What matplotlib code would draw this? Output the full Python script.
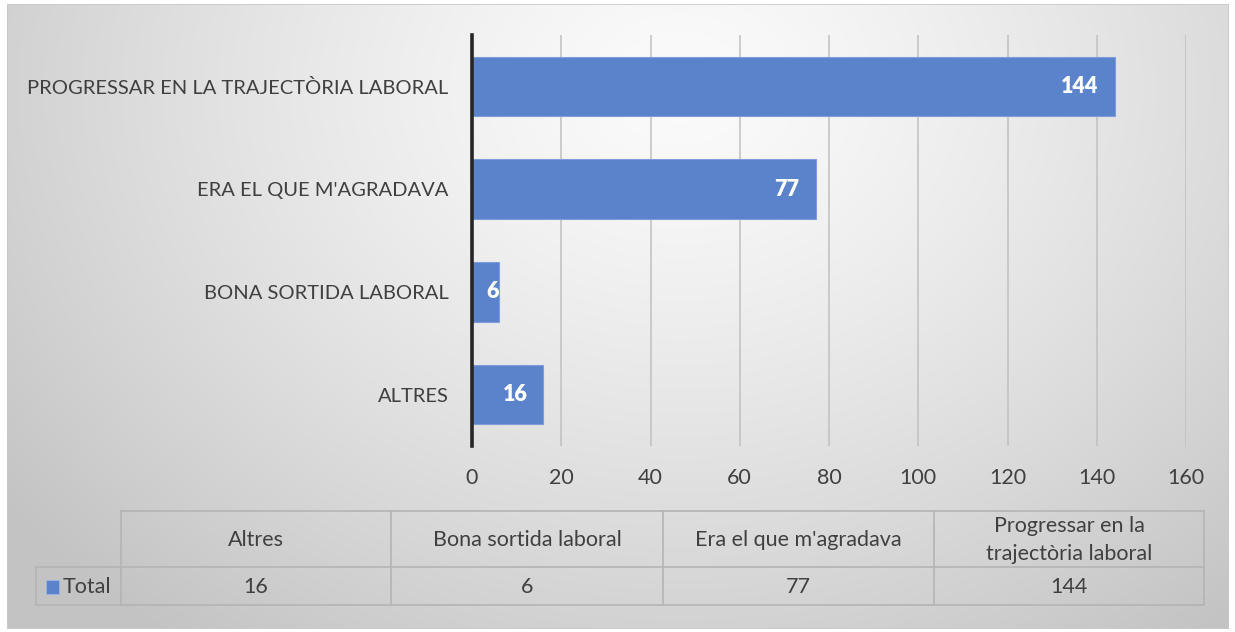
import numpy as np
import matplotlib
matplotlib.use("Agg")
import matplotlib.pyplot as plt
from matplotlib.patches import Rectangle

plt.rcParams["font.family"] = ["Lato", "DejaVu Sans"]

# data (bottom to top, as drawn)
categories = [
    "Altres",
    "Bona sortida laboral",
    "Era el que m'agradava",
    "Progressar en la trajectòria laboral",
]
table_headers = [
    "Altres",
    "Bona sortida laboral",
    "Era el que m'agradava",
    "Progressar en la\ntrajectòria laboral",
]
values = [16, 6, 77, 144]
series_name = "Total"
x_ticks = [0, 20, 40, 60, 80, 100, 120, 140, 160]

W, H = 1235, 632
BAR_COLOR = "#5b83cc"
TEXT_COLOR = "#404040"
LINE_COLOR = "#b4b4b4"


def fx(px):
    return px / W


def fy(py):
    return 1 - py / H


fig = plt.figure(figsize=(W / 100, H / 100), dpi=100)
fig.patch.set_facecolor("white")

# background with radial gradient
bg = fig.add_axes([fx(7), fy(629), fx(1229 - 7), (629 - 4) / H])
bg.set_axis_off()
yy, xx = np.mgrid[0:300, 0:600]
cx, cy = 330, 40
d = np.sqrt(((xx - cx) / 420.0) ** 2 + ((yy - cy) / 330.0) ** 2)
d = np.clip(d, 0, 1)
shade = 0.985 - 0.22 * d ** 1.3
img = np.dstack([shade, shade, shade])
bg.imshow(img, aspect="auto", extent=[0, 1, 0, 1], origin="upper")
bg.set_xlim(0, 1)
bg.set_ylim(0, 1)
bg.add_patch(Rectangle((0, 0), 1, 1, fill=False, edgecolor="#c8c8c8",
                       linewidth=1.2, transform=bg.transAxes))

# main bar axes
ax = fig.add_axes([fx(472), fy(446), fx(1186 - 472), (446 - 35) / H])
ax.patch.set_alpha(0)

y = np.arange(len(categories))
ax.barh(y, values, height=0.58, color=BAR_COLOR, edgecolor="#7d9ddb",
        linewidth=0.8, zorder=3)

# labels at the inside end of each bar
for yi, v in zip(y, values):
    ax.text(max(v - 3.6, 6.0), yi, str(v), ha="right", va="center",
            color="white", fontsize=15.5, fontweight="heavy", zorder=4)

ax.set_xlim(0, 160)
ax.set_ylim(-0.5, len(categories) - 0.5)
ax.set_xticks(x_ticks)
ax.set_xticklabels([str(t) for t in x_ticks], fontsize=15.5, color=TEXT_COLOR)
ax.set_yticks(y)
ax.set_yticklabels([c.upper() for c in categories], fontsize=14.5,
                   color=TEXT_COLOR)
ax.tick_params(axis="x", length=0, pad=16)
ax.tick_params(axis="y", length=0, pad=17)
ax.grid(axis="x", color="#c0c0c0", linewidth=1.1, zorder=0)
for side in ["top", "right", "bottom"]:
    ax.spines[side].set_visible(False)
ax.spines["left"].set_color("#262626")
ax.spines["left"].set_linewidth(2.6)
ax.spines["left"].set_zorder(5)

# data table below the chart
tab = fig.add_axes([0, 0, 1, 1])
tab.set_axis_off()
tab.set_xlim(0, W)
tab.set_ylim(H, 0)

col_edges = [121, 391, 663, 934, 1204]
label_left = 36
row_top, row_mid, row_bot = 511, 567, 605

lw = 1.2
tab.plot([col_edges[0], col_edges[-1]], [row_top, row_top], color=LINE_COLOR, lw=lw)
tab.plot([label_left, col_edges[-1]], [row_mid, row_mid], color=LINE_COLOR, lw=lw)
tab.plot([label_left, col_edges[-1]], [row_bot, row_bot], color=LINE_COLOR, lw=lw)
tab.plot([label_left, label_left], [row_mid, row_bot], color=LINE_COLOR, lw=lw)
for xe in col_edges:
    tab.plot([xe, xe], [row_top, row_bot], color=LINE_COLOR, lw=lw)

for i, (hdr, v) in enumerate(zip(table_headers, values)):
    xc = (col_edges[i] + col_edges[i + 1]) / 2
    tab.text(xc, (row_top + row_mid) / 2 + 1, hdr, ha="center", va="center",
             fontsize=15.5, color=TEXT_COLOR, linespacing=1.45)
    tab.text(xc, (row_mid + row_bot) / 2 + 1, str(v), ha="center",
             va="center", fontsize=15.5, color=TEXT_COLOR)

tab.add_patch(Rectangle((46, 580), 13, 14, facecolor=BAR_COLOR,
                        edgecolor="#9fb6e3", linewidth=0.6))
tab.text(63, (row_mid + row_bot) / 2 + 1, series_name, ha="left",
         va="center", fontsize=15.5, color=TEXT_COLOR)

fig.savefig("out.png", dpi=100, facecolor=fig.get_facecolor())
